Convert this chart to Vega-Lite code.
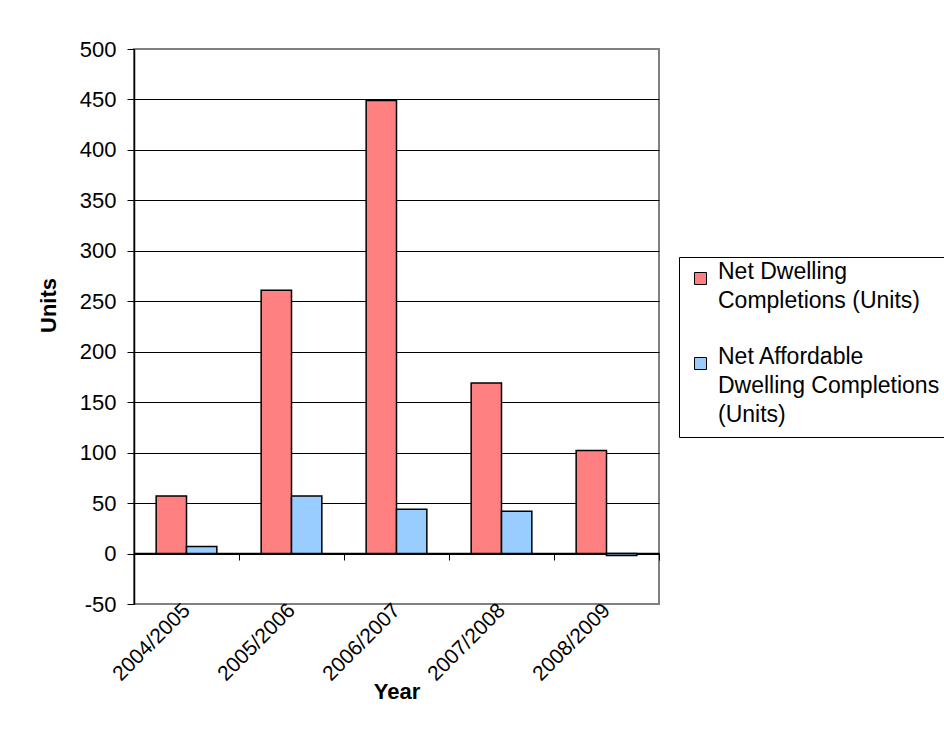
{
  "$schema": "https://vega.github.io/schema/vega-lite/v6.json",
  "width": 525,
  "height": 555,
  "autosize": {"type": "none"},
  "padding": {"left": 134, "top": 49, "right": 285, "bottom": 125},
  "background": "white",
  "config": {
    "font": "Liberation Sans",
    "view": {"stroke": "#808080", "strokeWidth": 2},
    "style": {"guide-label": {"lineHeight": 29}}
  },
  "data": {
    "values": [
      {"year": "2004/2005", "series": "Net Dwelling Completions (Units)", "value": 57},
      {"year": "2004/2005", "series": "Net Affordable Dwelling Completions (Units)", "value": 7},
      {"year": "2005/2006", "series": "Net Dwelling Completions (Units)", "value": 261},
      {"year": "2005/2006", "series": "Net Affordable Dwelling Completions (Units)", "value": 57},
      {"year": "2006/2007", "series": "Net Dwelling Completions (Units)", "value": 449},
      {"year": "2006/2007", "series": "Net Affordable Dwelling Completions (Units)", "value": 44},
      {"year": "2007/2008", "series": "Net Dwelling Completions (Units)", "value": 169},
      {"year": "2007/2008", "series": "Net Affordable Dwelling Completions (Units)", "value": 42},
      {"year": "2008/2009", "series": "Net Dwelling Completions (Units)", "value": 102},
      {"year": "2008/2009", "series": "Net Affordable Dwelling Completions (Units)", "value": -2}
    ]
  },
  "mark": {"type": "bar", "stroke": "black", "strokeWidth": 1.5},
  "encoding": {
    "x": {
      "field": "year",
      "type": "nominal",
      "scale": {"paddingInner": 0, "paddingOuter": 0},
      "axis": {
        "title": "Year",
        "orient": "bottom",
        "offset": -51,
        "tickBand": "extent",
        "labelAngle": -45,
        "labelAlign": "right",
        "labelBaseline": "middle",
        "labelPadding": 47,
        "tickSize": 7,
        "tickColor": "black",
        "domainColor": "black",
        "domainWidth": 1.5,
        "labelFontSize": 21,
        "labelColor": "black",
        "titleFontSize": 22,
        "titleFontWeight": "bold",
        "titleColor": "black",
        "titleBaseline": "top",
        "titleY": 128,
        "grid": false
      }
    },
    "xOffset": {
      "field": "series",
      "type": "nominal",
      "sort": ["Net Dwelling Completions (Units)", "Net Affordable Dwelling Completions (Units)"],
      "scale": {"paddingOuter": 0.73, "paddingInner": 0}
    },
    "y": {
      "field": "value",
      "type": "quantitative",
      "scale": {"domain": [-50, 500], "nice": false},
      "axis": {
        "title": "Units",
        "values": [-50, 0, 50, 100, 150, 200, 250, 300, 350, 400, 450, 500],
        "labelExpr": "datum.value < 0 ? '-' + abs(datum.value) : '' + datum.value",
        "tickSize": 7,
        "tickColor": "black",
        "domainColor": "black",
        "domainWidth": 1.5,
        "labelPadding": 11,
        "labelFontSize": 22,
        "labelColor": "black",
        "titleFontSize": 22,
        "titleFontWeight": "bold",
        "titleColor": "black",
        "titleX": -74,
        "titleY": 256,
        "grid": true,
        "gridColor": {"condition": {"test": "datum.value === 500 || datum.value === -50", "value": "#808080"}, "value": "black"},
        "gridOpacity": 1,
        "gridWidth": 1
      }
    },
    "color": {
      "field": "series",
      "type": "nominal",
      "sort": ["Net Dwelling Completions (Units)", "Net Affordable Dwelling Completions (Units)"],
      "scale": {
        "domain": ["Net Dwelling Completions (Units)", "Net Affordable Dwelling Completions (Units)"],
        "range": ["#FF8080", "#99CCFF"]
      },
      "legend": {
        "orient": "none",
        "legendX": 545,
        "legendY": 208,
        "title": null,
        "strokeColor": "black",
        "fillColor": "white",
        "padding": 10,
        "symbolType": "square",
        "symbolSize": 144,
        "symbolStrokeColor": "black",
        "symbolStrokeWidth": 1,
        "symbolOpacity": 1,
        "labelFontSize": 23,
        "labelColor": "black",
        "labelLimit": 400,
        "labelOffset": 6,
        "labelBaseline": "alphabetic",
        "rowPadding": 32,
        "labelExpr": "datum.label == 'Net Dwelling Completions (Units)' ? ['Net Dwelling', 'Completions (Units)'] : ['Net Affordable', 'Dwelling Completions', '(Units)']"
      }
    }
  }
}
